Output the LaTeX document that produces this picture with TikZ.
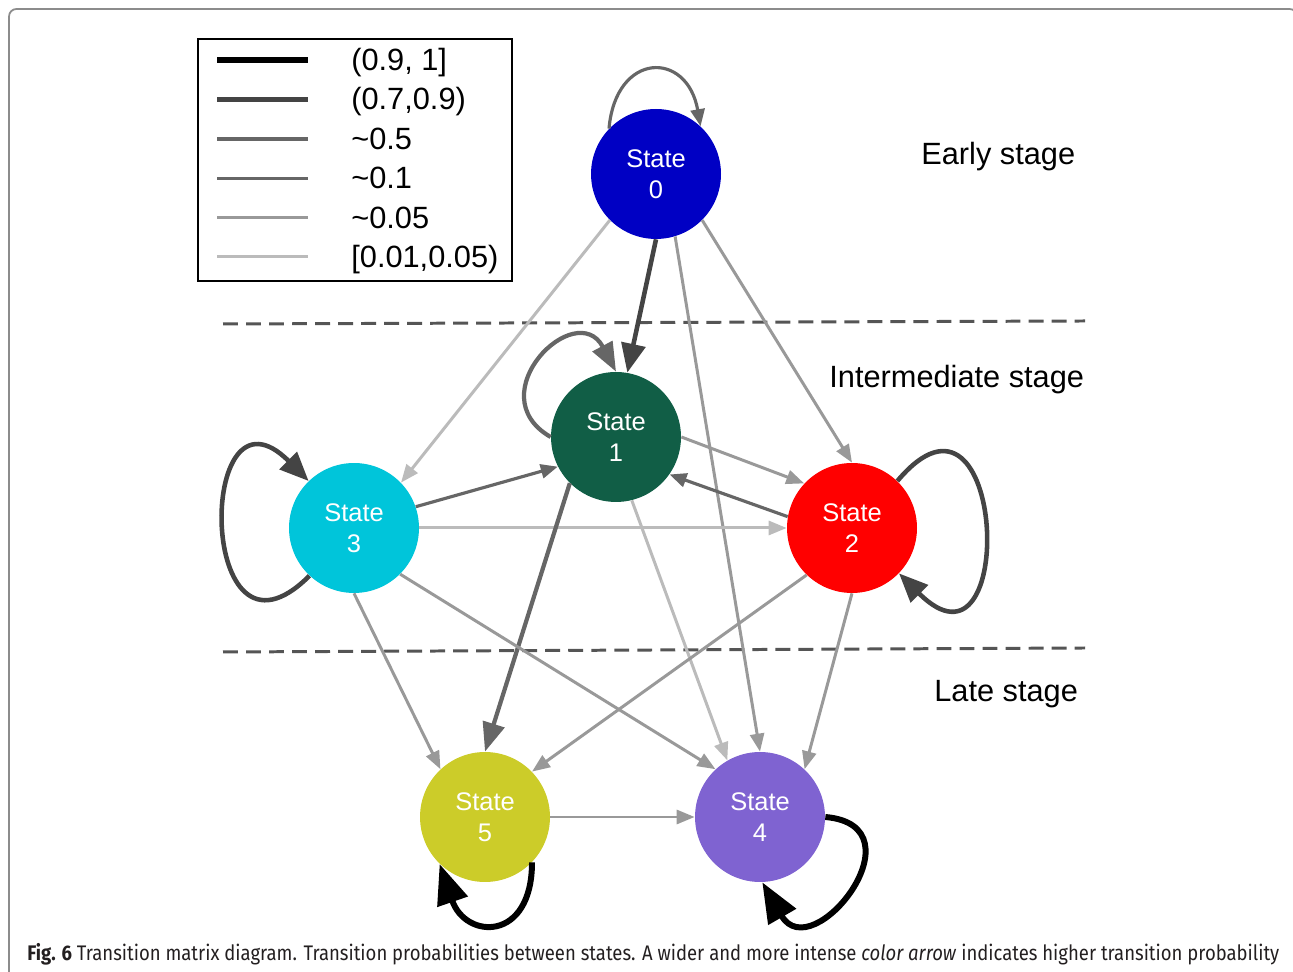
\documentclass[tikz,border=0pt]{standalone}
\usepackage{fontspec}
\setmainfont{Liberation Sans}
\newfontfamily\capfont{Fira Sans}
\usetikzlibrary{arrows.meta}

\definecolor{StateZero}{RGB}{0,0,196}
\definecolor{StateOne}{RGB}{17,94,70}
\definecolor{StateTwo}{RGB}{255,0,0}
\definecolor{StateThree}{RGB}{0,197,218}
\definecolor{StateFour}{RGB}{127,99,209}
\definecolor{StateFive}{RGB}{204,204,41}
\definecolor{Grey44}{RGB}{68,68,68}
\definecolor{Grey55}{RGB}{85,85,85}
\definecolor{Grey66}{RGB}{102,102,102}
\definecolor{Grey99}{RGB}{153,153,153}
\definecolor{GreyBB}{RGB}{187,187,187}
\definecolor{FrameGrey}{RGB}{140,140,140}

\begin{document}
\begin{tikzpicture}[x=0.02cm,y=0.02cm,
        statenode/.style={circle,fill=#1,minimum size=2.6cm,inner sep=0pt,
            text=white,align=center,font=\fontsize{14.5}{17.6}\selectfont},
        bigtext/.style={anchor=base west,inner sep=0pt,font=\fontsize{17.5}{20}\selectfont},
        c100/.style={line width=3.4pt,black},
        c80/.style={line width=2.6pt,Grey44},
        c50/.style={line width=2.4pt,Grey66},
        c10/.style={line width=1.8pt,Grey66},
        c05/.style={line width=1.7pt,Grey99},
        c01/.style={line width=1.7pt,GreyBB},
        w100/.style={c100,-{Triangle[length=0.8cm,width=0.62cm]}},
        w80/.style={c80,-{Triangle[length=0.58cm,width=0.48cm]}},
        w50/.style={c50,-{Triangle[length=0.58cm,width=0.44cm]}},
        w10/.style={c10,-{Triangle[length=0.34cm,width=0.28cm]}},
        w05/.style={c05,-{Triangle[length=0.36cm,width=0.28cm]}},
        w01/.style={c01,-{Triangle[length=0.36cm,width=0.28cm]}},
        stageline/.style={line width=1.7pt,Grey55,dash pattern=on 8.5pt off 4.6pt},
    ]
    \useasboundingbox (0,0) rectangle (1293,972);

    % frame of the figure
    \draw[FrameGrey,line width=1pt,rounded corners=0.15cm]
        (9,-40) -- (9,963) -- (1297,963) -- (1297,-40);

    % legend
    \draw[line width=0.9pt] (198,933) rectangle (512,691);
    \foreach \sty/\txt [count=\i from 0] in {c100/{(0.9, 1]},c80/{(0.7,0.9)},
            c50/{\textasciitilde0.5},c10/{\textasciitilde0.1},
            c05/{\textasciitilde0.05},c01/{[0.01,0.05)}} {
        \draw[\sty] (217,{912-39.4*\i}) -- (308,{912-39.4*\i});
        \node[bigtext] (leg\i) at (351,{901.5-39.4*\i}) {\txt};
    }

    % stages
    \draw[stageline] (223,648) -- (1085,651);
    \draw[stageline] (223,320) -- (1085,324);
    \node[bigtext] (early) at (921,807) {Early stage};
    \node[bigtext] (inter) at (829,584) {Intermediate stage};
    \node[bigtext] (late) at (934,270) {Late stage};

    % states
    \node[statenode=StateZero]  (s0) at (656,798) {State\\0};
    \node[statenode=StateOne]   (s1) at (616,535) {State\\1};
    \node[statenode=StateTwo]   (s2) at (852,444) {State\\2};
    \node[statenode=StateThree] (s3) at (354,444) {State\\3};
    \node[statenode=StateFour]  (s4) at (760,155) {State\\4};
    \node[statenode=StateFive]  (s5) at (485,155) {State\\5};

    % transitions
    \draw[w80] (s0.-90) -- (s1.80);
    \draw[w01] (s0.225) -- (s3.44);
    \draw[w05] (s0.-45) -- (s2.90);
    \draw[w05] (s0.-73) -- (s4.90);
    \draw[w05] (s1.0) -- (s2.137);
    \draw[w10] (s2.170) -- (s1.-35);
    \draw[w10] (s3.19) -- (s1.207);
    \draw[w01] (s3.0) -- (s2.180);
    \draw[w50] (s1.225) -- (s5.90);
    \draw[w01] (s1.-76) -- (s4.120);
    \draw[w05] (s3.-90) -- (s5.133);
    \draw[w05] (s3.-45) -- (s4.133);
    \draw[w05] (s2.226) -- (s5.44);
    \draw[w05] (s2.-90) -- (s4.47);
    \draw[w05] (s5.0) -- (s4.180);

    % self transitions
    \draw[w10] (s0.136) to[out=85,in=100,distance=1.55cm] (s0.47);
    \draw[w50] (s1.180) to[out=150,in=118,distance=1.7cm] (s1.90);
    \draw[w80] (s3.227) to[out=225,in=135,distance=3.2cm] (s3.134);
    \draw[w80] (s2.46) to[out=50,in=-45,distance=3.4cm] (s2.-44);
    \draw[w100] (s5.-44) to[out=-90,in=-71,distance=1.6cm] (s5.226);
    \draw[w100] (s4.0) to[out=-5,in=-60,distance=2cm] (s4.-88);

    % caption
    \node[anchor=base west,inner sep=0pt] (caption) at (27,11)
        {\resizebox{25.04cm}{\height}{\capfont\fontsize{12}{14}\selectfont\color[RGB]{35,31,32}%
        \textbf{Fig. 6} Transition matrix diagram. Transition probabilities between states.
        A wider and more intense \textit{color arrow} indicates higher transition probability}};
\end{tikzpicture}
\end{document}
